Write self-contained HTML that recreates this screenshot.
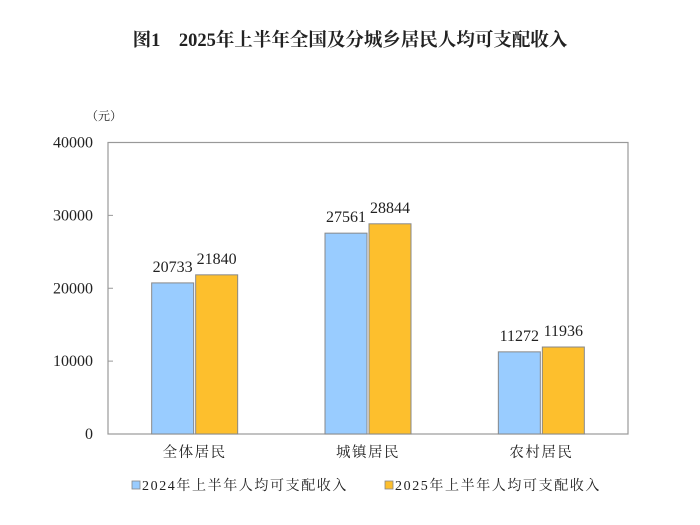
<!DOCTYPE html>
<html><head><meta charset="utf-8"><style>
body{margin:0;background:#fff;}
svg text{font-family:"Liberation Serif","Noto Serif CJK SC",serif;fill:#222;}
</style></head><body>
<svg width="700" height="520">
<text x="350" y="46" text-anchor="middle" font-size="18.5" font-weight="bold">图1　2025年上半年全国及分城乡居民人均可支配收入</text>
<text x="86" y="120" font-size="12">（元）</text>
<rect x="108" y="142.5" width="520" height="291.5" fill="none" stroke="#999" stroke-width="1.2"/>
<g id="axis"></g><g id="bars"></g>
<g>
<rect x="132" y="481" width="8" height="8" fill="#99ccff" stroke="#888" stroke-width="0.8"/>
<text x="142" y="490" font-size="14" letter-spacing="1.6">2024年上半年人均可支配收入</text>
<rect x="385" y="481" width="8" height="8" fill="#fdbf2d" stroke="#888" stroke-width="0.8"/>
<text x="395" y="490" font-size="14" letter-spacing="1.6">2025年上半年人均可支配收入</text>
</g>
</svg>
<script>
const categories=["全体居民","城镇居民","农村居民"];
const values2024=[20733,27561,11272];
const values2025=[21840,28844,11936];
const yTicks=[0,10000,20000,30000,40000];
const NS="http://www.w3.org/2000/svg";
const x0=108,x1=628,y0=434,y1=142.5,yMax=40000;
const yScale=v=>y0-(v/yMax)*(y0-y1);
const bandW=(x1-x0)/categories.length;
const xCenter=i=>x0+bandW*(i+0.5);
function mk(tag,attrs,parent){const e=document.createElementNS(NS,tag);for(const k in attrs)e.setAttribute(k,attrs[k]);parent.appendChild(e);return e;}
const ax=document.getElementById('axis'),bg=document.getElementById('bars');
yTicks.forEach(t=>{
 const y=yScale(t);
 const l=mk('line',{x1:x0,x2:x0+5,y1:y,y2:y,stroke:'#999'},ax);
 
 
 const tx=mk('text',{x:93,y:y+5,'text-anchor':'end','font-size':'16'},ax);
 tx.textContent=t;
 
 
});
categories.forEach((c,i)=>{
 const cx=xCenter(i);
 const tx=mk('text',{x:cx,y:457,'text-anchor':'middle','font-size':'14.5','letter-spacing':'1.5'},ax);
 tx.textContent=c;
 
 
 [[values2024[i],'#99ccff',cx-43,'bar-2024'],[values2025[i],'#fdbf2d',cx+1,'bar-2025']].forEach(([v,col,bx,nm])=>{
  const y=yScale(v);
  const r=mk('rect',{x:bx,y:y,width:42,height:y0-y,fill:col,stroke:'#888','stroke-width':'1'},bg);
  
  
  const lb=mk('text',{x:bx+21,y:y-11,'text-anchor':'middle','font-size':'16'},bg);
  lb.textContent=v;
  
  
 });
});
</script>
</body></html>
